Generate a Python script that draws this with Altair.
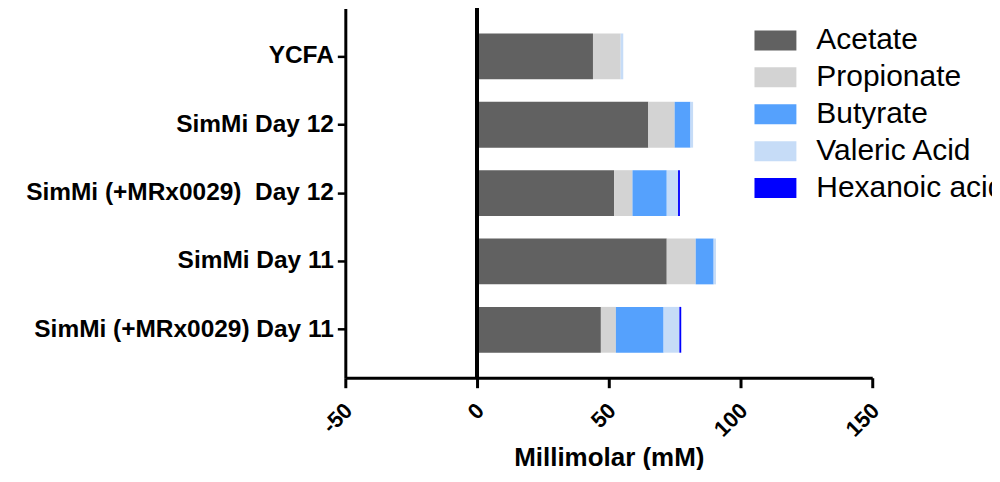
import altair as alt
import pandas as pd

categories = ["YCFA", "SimMi Day 12", "SimMi (+MRx0029) \u00a0Day 12", "SimMi Day 11", "SimMi (+MRx0029) Day 11"]
acids = ["Acetate", "Propionate", "Butyrate", "Valeric Acid", "Hexanoic acid"]
acetate = [44.0, 65.0, 52.0, 72.0, 47.0]
propionate = [10.5, 10.0, 7.0, 11.0, 5.7]
butyrate = [0.0, 6.0, 13.0, 6.8, 18.1]
valeric = [1.0, 1.0, 4.3, 0.9, 6.0]
hexanoic = [0.0, 0.0, 0.7, 0.0, 0.7]
colors = ["#616161", "#d3d3d3", "#55a1fd", "#c6dcf7", "#0000ff"]
x_ticks = [-50, 0, 50, 100, 150]

series = [acetate, propionate, butyrate, valeric, hexanoic]
rows = []
for ai, (acid, vals) in enumerate(zip(acids, series)):
    for cat, v in zip(categories, vals):
        rows.append({"cat": cat, "acid": acid, "value": v, "idx": ai})
df = pd.DataFrame(rows)

FONT = "Liberation Sans"

bars = alt.Chart(df).mark_bar(stroke=None).encode(
    y=alt.Y("cat:N", sort=categories,
            scale=alt.Scale(paddingInner=0.33, paddingOuter=0.366),
            axis=alt.Axis(title=None, labelFontSize=24.5, labelFontWeight="bold", labelColor="black",
                          labelFont=FONT, tickSize=8, tickWidth=2.5, tickColor="black",
                          domainWidth=3, domainColor="black", labelPadding=4, grid=False,
                          labelLimit=400)),
    x=alt.X("value:Q", stack="zero",
            scale=alt.Scale(domain=[-50, 150], nice=False, zero=False),
            axis=alt.Axis(values=x_ticks, title="Millimolar (mM)", labelAngle=315,
                          labelExpr="'' + datum.value",
                          labelAlign="right", labelBaseline="middle", labelFontSize=22,
                          labelFontWeight="bold", labelColor="black", labelFont=FONT,
                          tickSize=10, tickWidth=3, tickColor="black", domainWidth=3,
                          domainColor="black", labelPadding=19, labelOffset=3, grid=False,
                          titleFontSize=26, titleFontWeight="bold", titleFont=FONT,
                          titleColor="black", titleY=88, titleBaseline="alphabetic")),
    color=alt.Color("acid:N", sort=acids,
                    scale=alt.Scale(domain=acids, range=colors),
                    legend=alt.Legend(orient="none", legendX=416, legendY=17, title=None,
                                      symbolType="M-2.1,-1H2.1V1H-2.1Z", symbolSize=400,
                                      symbolStrokeWidth=0, labelFontSize=30, labelFont=FONT,
                                      labelColor="black", labelOffset=26, rowPadding=7,
                                      labelLimit=400)),
    order=alt.Order("idx:Q", sort="ascending"),
)

zero_line = alt.Chart(df).mark_rule(color="black", strokeWidth=3).encode(x=alt.datum(0))

chart = alt.layer(bars, zero_line).properties(
    width=528, height=370,
    autosize=alt.AutoSizeParams(type="none"),
    padding={"left": 338, "top": 0, "right": 120, "bottom": 92},
).configure(font=FONT).configure_view(stroke=None)

chart.save("out.html", embed_options={"renderer": "svg", "actions": False})
